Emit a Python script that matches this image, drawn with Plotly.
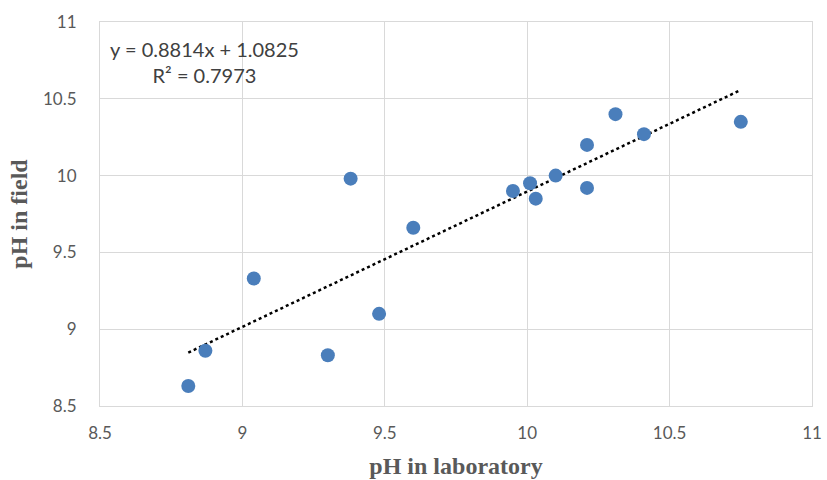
import numpy as np
import plotly.graph_objects as go

# pH readings: laboratory vs field
ph_lab = [8.81, 8.87, 9.04, 9.30, 9.38, 9.48, 9.60, 9.95, 10.01, 10.03, 10.10, 10.21, 10.21, 10.31, 10.41, 10.75]
ph_field = [8.63, 8.86, 9.33, 8.83, 9.98, 9.10, 9.66, 9.90, 9.95, 9.85, 10.00, 10.20, 9.92, 10.40, 10.27, 10.35]

# linear trend reported on the chart
slope = 0.8814
intercept = 1.0825
r_squared = 0.7973

tick_vals = [8.5, 9, 9.5, 10, 10.5, 11]
tick_text = ["8.5", "9", "9.5", "10", "10.5", "11"]

trend_x = np.array([min(ph_lab), max(ph_lab)])
trend_y = slope * trend_x + intercept

fig = go.Figure()
fig.add_trace(go.Scatter(
    x=trend_x, y=trend_y, mode="lines",
    line=dict(color="black", width=2.5, dash="dot"),
    hoverinfo="skip", showlegend=False,
))
fig.add_trace(go.Scatter(
    x=ph_lab, y=ph_field, mode="markers",
    marker=dict(color="#4a7ebb", size=14),
    showlegend=False,
))

grid = "#d9d9d9"
tick_font = dict(family="Lato, Open Sans, sans-serif", size=17, color="#595959")
title_font = dict(family="Liberation Serif, Times New Roman, serif", size=24, color="#595959")

fig.update_xaxes(
    range=[8.5, 11], tickvals=tick_vals, ticktext=tick_text,
    showgrid=True, gridcolor=grid, gridwidth=1,
    showline=True, linecolor=grid, linewidth=1, mirror=True,
    zeroline=False, ticks="", ticklabelstandoff=12, automargin=False,
    tickfont=tick_font,
    title=dict(text="<b>pH in laboratory</b>", font=title_font, standoff=14),
)
fig.update_yaxes(
    range=[8.5, 11], tickvals=tick_vals, ticktext=tick_text,
    showgrid=True, gridcolor=grid, gridwidth=1,
    showline=True, linecolor=grid, linewidth=1, mirror=True,
    zeroline=False, ticks="", ticklabelstandoff=19, automargin=False,
    tickfont=tick_font,
    title=dict(text="<b>pH in field</b>", font=title_font, standoff=8),
)

fig.add_annotation(
    xref="paper", yref="paper", x=0.147, y=0.897, xanchor="center", yanchor="middle",
    text=f"y = {slope}x + {intercept}<br>R² = {r_squared}",
    showarrow=False, align="center",
    font=dict(family="Lato, Open Sans, sans-serif", size=20, color="#404040"),
)

fig.update_layout(
    width=827, height=480,
    margin=dict(l=100, r=15, t=22, b=74),
    plot_bgcolor="white", paper_bgcolor="white",
)

fig.write_html("out.html")
